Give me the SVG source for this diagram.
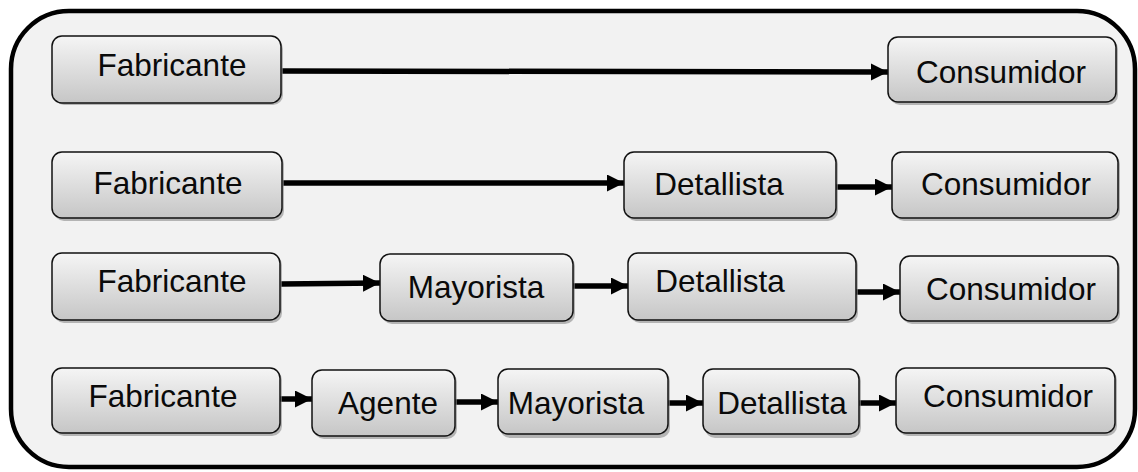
<svg xmlns="http://www.w3.org/2000/svg" width="1138" height="472" viewBox="0 0 1138 472">
<defs>
<linearGradient id="g" x1="0" y1="0" x2="0" y2="1">
<stop offset="0" stop-color="#f5f5f5"/>
<stop offset="1" stop-color="#c6c6c6"/>
</linearGradient>
<marker id="ah" markerUnits="userSpaceOnUse" markerWidth="18" markerHeight="18" refX="17" refY="8.5" orient="auto">
<path d="M0,0 L17,8.5 L0,17 z" fill="#000"/>
</marker>
</defs>
<style>
.box{fill:url(#g);stroke:#111;stroke-width:1.5}
.sh{fill:#8a8a8a;opacity:0.6}
.t{font-family:"Liberation Sans",Arial,sans-serif;font-size:31.5px;fill:#0a0a0a;text-anchor:middle}
.c{stroke:#000;stroke-width:5.5;fill:none;marker-end:url(#ah)}
</style>
<rect width="1138" height="472" fill="#fff"/>
<rect x="11" y="11" width="1124" height="456" rx="58" ry="58" fill="#f2f2f2" stroke="#000" stroke-width="4.5"/>
<g id="connectors">
<path class="c" d="M282,71 L888,72"/>
<path class="c" d="M283,183 L624,183"/>
<path class="c" d="M836,187 L892,187"/>
<path class="c" d="M281,284 L380,283"/>
<path class="c" d="M573,286 L628,286"/>
<path class="c" d="M856,292 L900,292"/>
<path class="c" d="M280,399 L312,399"/>
<path class="c" d="M455,402 L498,402"/>
<path class="c" d="M668,403 L703,403"/>
<path class="c" d="M859,403 L896,403"/>
</g>
<g id="r1-fabricante"><rect class="sh" x="54" y="39" width="229" height="66" rx="10"/><rect class="box" x="52" y="36" width="229" height="67" rx="10"/><text class="t" x="172" y="76">Fabricante</text></g>
<g id="r1-consumidor"><rect class="sh" x="890" y="39" width="228" height="66" rx="10"/><rect class="box" x="888" y="37" width="228" height="65" rx="10"/><text class="t" x="1001" y="83">Consumidor</text></g>
<g id="r2-fabricante"><rect class="sh" x="54" y="154" width="230" height="67" rx="10"/><rect class="box" x="52" y="152" width="230" height="66" rx="10"/><text class="t" x="168" y="194">Fabricante</text></g>
<g id="r2-detallista"><rect class="sh" x="626" y="154" width="212" height="67" rx="10"/><rect class="box" x="624" y="152" width="212" height="66" rx="10"/><text class="t" x="719" y="195">Detallista</text></g>
<g id="r2-consumidor"><rect class="sh" x="894" y="154" width="226" height="67" rx="10"/><rect class="box" x="892" y="152" width="226" height="66" rx="10"/><text class="t" x="1006" y="195">Consumidor</text></g>
<g id="r3-fabricante"><rect class="sh" x="54" y="255" width="228" height="68" rx="10"/><rect class="box" x="52" y="253" width="228" height="67" rx="10"/><text class="t" x="172" y="292">Fabricante</text></g>
<g id="r3-mayorista"><rect class="sh" x="382" y="256" width="193" height="68" rx="10"/><rect class="box" x="380" y="254" width="193" height="67" rx="10"/><text class="t" x="476" y="298">Mayorista</text></g>
<g id="r3-detallista"><rect class="sh" x="630" y="255" width="228" height="68" rx="10"/><rect class="box" x="628" y="253" width="228" height="67" rx="10"/><text class="t" x="720" y="292">Detallista</text></g>
<g id="r3-consumidor"><rect class="sh" x="902" y="258" width="218" height="66" rx="10"/><rect class="box" x="900" y="256" width="218" height="65" rx="10"/><text class="t" x="1011" y="300">Consumidor</text></g>
<g id="r4-fabricante"><rect class="sh" x="54" y="370" width="228" height="66" rx="10"/><rect class="box" x="52" y="368" width="228" height="65" rx="10"/><text class="t" x="163" y="407">Fabricante</text></g>
<g id="r4-agente"><rect class="sh" x="314" y="372" width="143" height="67" rx="10"/><rect class="box" x="312" y="370" width="143" height="66" rx="10"/><text class="t" x="388" y="414">Agente</text></g>
<g id="r4-mayorista"><rect class="sh" x="500" y="371" width="170" height="67" rx="10"/><rect class="box" x="498" y="369" width="170" height="65" rx="10"/><text class="t" x="576" y="414">Mayorista</text></g>
<g id="r4-detallista"><rect class="sh" x="705" y="371" width="156" height="67" rx="10"/><rect class="box" x="703" y="369" width="156" height="65" rx="10"/><text class="t" x="782" y="414">Detallista</text></g>
<g id="r4-consumidor"><rect class="sh" x="898" y="370" width="219" height="66" rx="10"/><rect class="box" x="896" y="368" width="219" height="65" rx="10"/><text class="t" x="1008" y="407">Consumidor</text></g>
</svg>
